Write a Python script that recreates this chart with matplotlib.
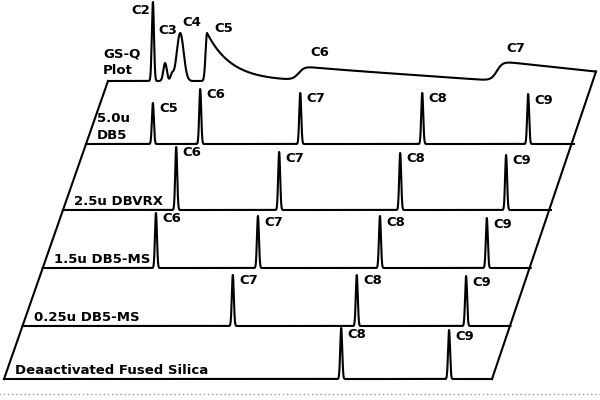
import numpy as np
import matplotlib
matplotlib.use("Agg")
import matplotlib.pyplot as plt

# --- data (retention as % of run, peak heights in px-like units) ---
row_labels = ["5.0u\nDB5", "2.5u DBVRX", "1.5u DB5-MS", "0.25u DB5-MS",
              "Deaactivated Fused Silica"]
row_names = [["C5", "C6", "C7", "C8", "C9"],
             ["C6", "C7", "C8", "C9"],
             ["C6", "C7", "C8", "C9"],
             ["C7", "C8", "C9"],
             ["C8", "C9"]]
row_times = [[13.7, 23.4, 43.9, 68.9, 90.6],
             [23.2, 44.3, 69.1, 90.8],
             [23.2, 44.1, 69.1, 91.0],
             [43.1, 68.5, 90.9],
             [69.1, 91.2]]
row_heights = [[41, 55, 51, 51, 50],
               [63, 58, 57, 55],
               [55, 52, 52, 50],
               [51, 51, 50],
               [51, 49]]

# GS-Q plot: peaks (C2..C5) and two baseline steps (C6, C7)
gsq_names = ["C2", "C3", "", "C4", "C5"]
gsq_times = [9.2, 11.7, 13.1, 14.8, 20.3]
gsq_heights = [79, 18, 6, 48, 48]
gsq_widths = [0.22, 0.35, 0.3, 0.7, 0.3]
gsq_tails = [0, 0, 0, 0, 5.0]
gsq_step_names = ["C6", "C7"]
gsq_step_times = [39.1, 79.7]
gsq_step_heights = [14, 20]
gsq_step_slopes = [0.34, 0.52]

# --- layout ---
row_base = [235, 169, 111, 53, 0]
gsq_base = 298
skew = 0.349 / 4.88          # horizontal shift (in % units) per vertical unit
sigma = 0.2
lw = 1.5
font = dict(family="DejaVu Sans", weight="bold", size=9.5)

# label anchors for the GS-Q plot, relative to its row origin
gsq_lab_t = [8.6, 10.3, None, 15.2, 21.9]
gsq_lab_z = [71, 51, None, 58, 52]
gsq_step_lab_t = [41.4, 81.6]
gsq_step_lab_z = [29, 33]

t = np.linspace(0, 100, 8001)

fig = plt.figure(figsize=(6, 4), dpi=100)
ax = fig.add_axes((0, 0, 1, 1))
ax.set_xlim(-4 / 4.88, 596 / 4.88)
ax.set_ylim(-21, 379)
ax.axis("off")

# chromatogram rows
for label, names, times, heights, base in zip(row_labels, row_names, row_times,
                                               row_heights, row_base):
    shift = base * skew
    sig = np.zeros_like(t)
    for tp, h in zip(times, heights):
        sig += h * np.exp(-0.5 * ((t - tp) / sigma) ** 2)
    ax.plot(t + shift, base + sig, color="black", lw=lw)
    for name, tp, h in zip(names, times, heights):
        ax.text(tp + shift + 1.3, base + h - 6, name, ha="left", va="center",
                **font)
    ax.text(shift + 2.3, base + 2, label, ha="left", va="bottom",
            linespacing=1.35, **font)

# GS-Q trace
shift = gsq_base * skew
sig = np.zeros_like(t)
for tp, h, w, tau in zip(gsq_times, gsq_heights, gsq_widths, gsq_tails):
    g = h * np.exp(-0.5 * ((t - tp) / w) ** 2)
    if tau > 0:
        g = np.where(t < tp, g, h * np.exp(-(t - tp) / tau))
    sig += g
s1 = 1 / (1 + np.exp(-(t - gsq_step_times[0]) / 0.6))
s2 = 1 / (1 + np.exp(-(t - gsq_step_times[1]) / 0.6))
lev1 = gsq_step_heights[0] - gsq_step_slopes[0] * (t - gsq_step_times[0])
lev2 = gsq_step_heights[1] - gsq_step_slopes[1] * (t - gsq_step_times[1])
sig += s1 * (1 - s2) * lev1 + s2 * lev2
ax.plot(t + shift, gsq_base + sig, color="black", lw=lw)

for name, lt, lz in zip(gsq_names, gsq_lab_t, gsq_lab_z):
    if not name:
        continue
    ha = "right" if name == "C2" else "left"
    ax.text(lt + shift, gsq_base + lz, name, ha=ha, va="center", **font)
for name, lt, lz in zip(gsq_step_names, gsq_step_lab_t, gsq_step_lab_z):
    ax.text(lt + shift, gsq_base + lz, name, ha="left", va="center", **font)
ax.text(shift - 1.0, gsq_base + 4, "GS-Q\nPlot", ha="left", va="bottom",
        linespacing=1.35, **font)

# parallelogram sides
ax.plot([0, shift], [0, gsq_base], color="black", lw=lw)
ax.plot([100, 100 + shift], [0, gsq_base + sig[-1]], color="black", lw=lw)

# faint dotted scan line at the bottom
ax.plot([-1, 123], [-15, -15], color="0.6", lw=1.0, ls=(0, (1, 2)))

fig.savefig("out.png", dpi=100, facecolor="white")
